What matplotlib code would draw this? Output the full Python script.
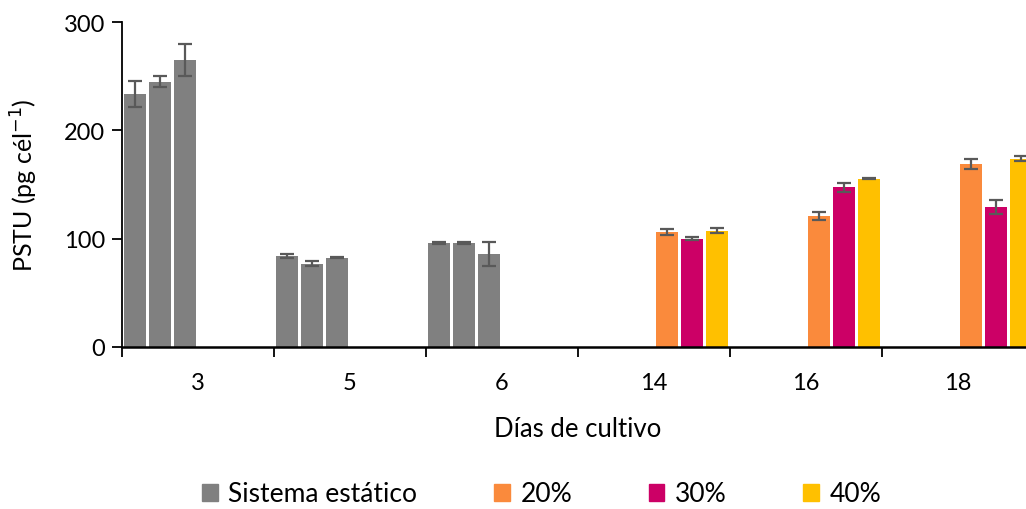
import numpy as np
import matplotlib.pyplot as plt
from matplotlib.patches import Patch

plt.rcParams['font.family'] = ['Lato', 'DejaVu Sans']

dias = ['3', '5', '6', '14', '16', '18']

# sistema estatico, three replicate bars for days 3, 5, 6
estatico = [[234, 245, 265], [84, 77, 82.5], [96, 96, 86]]
estatico_err = [[12, 5, 15], [1.5, 2.5, 0.8], [0.5, 0.5, 11]]

# 20, 30, 40 % for days 14, 16, 18
p20 = [106, 121, 169]
p20_err = [3, 4, 5]
p30 = [100, 147.5, 129.5]
p30_err = [1.5, 4, 6.5]
p40 = [107.5, 155.5, 174]
p40_err = [2, 0.5, 2]

gris = '#808080'
colores = ['#FA8A3C', '#CC0066', '#FFC000']
err_color = '#595959'

fig = plt.figure(figsize=(10.26, 5.10), dpi=100)
ax = fig.add_axes([122/1026, 1-348/510, 912/1026, 325/510])

w = 1/6
bw = w * 0.88
ekw = dict(ecolor=err_color, elinewidth=1.6, capsize=5, capthick=1.6)

for i in range(3):
    for k in range(3):
        x = i - 0.5 + (k + 0.5) * w
        ax.bar(x, estatico[i][k], bw, color=gris, yerr=estatico_err[i][k],
               error_kw=ekw, zorder=2)

series = [(p20, p20_err), (p30, p30_err), (p40, p40_err)]
for k, (vals, errs) in enumerate(series):
    xs = [3 + j - 0.5 + (k + 3.5) * w for j in range(3)]
    ax.bar(xs, vals, bw, color=colores[k], yerr=errs, error_kw=ekw, zorder=2)

ax.set_xlim(-0.5, 5.5)
ax.set_ylim(0, 300)
ax.set_yticks([0, 100, 200, 300])
ax.set_xticks(range(6))
ax.set_xticklabels(dias)
ax.set_xticks(np.arange(-0.5, 5.6, 1), minor=True)
ax.tick_params(axis='x', which='major', length=0, pad=18, labelsize=17)
ax.tick_params(axis='x', which='minor', length=7, width=1.3, direction='out')
ax.tick_params(axis='y', length=7, width=1.3, labelsize=17, pad=5)

for s in ['top', 'right']:
    ax.spines[s].set_visible(False)
ax.spines['left'].set_linewidth(1.3)
ax.spines['bottom'].set_linewidth(1.8)

ax.set_xlabel('Días de cultivo', fontsize=18.5)
ax.set_ylabel('PSTU (pg cél$^{-1}$)', fontsize=18)
ax.xaxis.set_label_coords((578-122)/912, -0.213)
ax.yaxis.set_label_coords(-(122-40)/912, 0.5)

handles = [Patch(color=gris, label='Sistema estático')]
handles += [Patch(color=c, label=l) for c, l in zip(colores, ['20%', '30%', '40%'])]
fig.legend(handles=handles, loc='center', bbox_to_anchor=(0.528, 1-495/510),
           ncol=4, frameon=False, fontsize=19, handlelength=0.6, handleheight=0.6,
           handletextpad=0.4, columnspacing=2.9)

fig.savefig('out.png', dpi=100)
